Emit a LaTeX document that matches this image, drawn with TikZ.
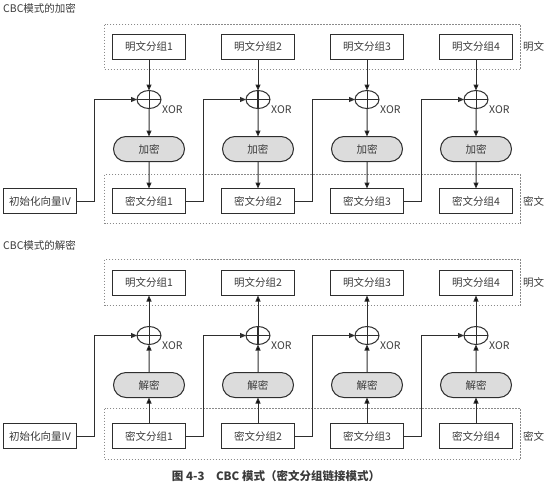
\documentclass[tikz,border=0pt]{standalone}
\usepackage{fontspec}
\setmainfont{Noto Sans CJK SC}
\usetikzlibrary{matrix,arrows.meta,shapes.geometric,shapes.misc}
\definecolor{lncol}{HTML}{2E2E2E}
\definecolor{txtcol}{HTML}{3A3A3A}
\definecolor{opgray}{HTML}{DCDCDC}
\definecolor{grpgray}{HTML}{8A8A8A}
\tikzset{
  blk/.style={draw=lncol, line width=1pt, minimum width=73pt, minimum height=25pt, inner sep=1pt},
  xor/.style={draw=lncol, ellipse, line width=1pt, minimum width=24pt, minimum height=18pt, inner sep=0pt,
    path picture={\draw[lncol, line width=1pt]
      (path picture bounding box.north) -- (path picture bounding box.south)
      (path picture bounding box.west) -- (path picture bounding box.east);}},
  op/.style={draw=lncol, rounded rectangle, fill=opgray, line width=1pt, minimum width=73pt, minimum height=25pt, inner sep=1pt},
  grp/.style={draw=grpgray, dash pattern=on 1.5pt off 1.5pt, line width=0.6pt},
  lbl/.style={text=txtcol, font=\fontsize{10.5}{12}\selectfont, inner sep=1pt},
  link/.style={draw=lncol, line width=1pt, -{Triangle[length=6pt,width=5pt]}},
}

\begin{document}
\begin{tikzpicture}[x=1pt,y=1pt]
\useasboundingbox (0,0) rectangle (554,-485);

% CBC encryption
\node[lbl, anchor=west] (enc) at (2,-8) {CBC模式的加密};
\matrix (e) [matrix of nodes, row sep=27pt, column sep=35pt, inner sep=0pt, outer sep=0pt,
  anchor=north west, nodes={text=txtcol, font=\fontsize{10.5}{12}\selectfont}] at (3,-34)
{
  & |[blk]| 明文分组1 & |[blk]| 明文分组2 & |[blk]| 明文分组3 & |[blk]| 明文分组4 \\[3pt]
  & |[xor]| {} & |[xor]| {} & |[xor]| {} & |[xor]| {} \\
  & |[op]| 加密 & |[op]| 加密 & |[op]| 加密 & |[op]| 加密 \\[-1pt]
  |[blk]| 初始化向量IV & |[blk]| 密文分组1 & |[blk]| 密文分组2 & |[blk]| 密文分组3 & |[blk]| 密文分组4 \\
};
\draw[grp] ([xshift=-8pt,yshift=10pt]e-1-2.north west) rectangle ([xshift=8pt,yshift=-10pt]e-1-5.south east);
\draw[grp] ([xshift=-8pt,yshift=14pt]e-4-2.north west) rectangle ([xshift=8pt,yshift=-10pt]e-4-5.south east);
\node[lbl] (encp) at ([xshift=21pt]e-1-5.east) {明文};
\node[lbl] (encc) at ([xshift=21pt]e-4-5.east) {密文};
\node[lbl, anchor=west] at ([yshift=-10pt]e-2-2.east) {XOR};
\node[lbl, anchor=west] at ([yshift=-10pt]e-2-3.east) {XOR};
\node[lbl, anchor=west] at ([yshift=-10pt]e-2-4.east) {XOR};
\node[lbl, anchor=west] at ([yshift=-10pt]e-2-5.east) {XOR};
\path[link]
  (e-1-2) edge (e-2-2) (e-2-2) edge (e-3-2) (e-3-2) edge (e-4-2)
  (e-1-3) edge (e-2-3) (e-2-3) edge (e-3-3) (e-3-3) edge (e-4-3)
  (e-1-4) edge (e-2-4) (e-2-4) edge (e-3-4) (e-3-4) edge (e-4-4)
  (e-1-5) edge (e-2-5) (e-2-5) edge (e-3-5) (e-3-5) edge (e-4-5);
\draw[link] (e-4-1.east) -- ++(18,0) |- (e-2-2.west);
\draw[link] (e-4-2.east) -- ++(17.5,0) |- (e-2-3.west);
\draw[link] (e-4-3.east) -- ++(17.5,0) |- (e-2-4.west);
\draw[link] (e-4-4.east) -- ++(17.5,0) |- (e-2-5.west);

% CBC decryption
\node[lbl, anchor=west] (dec) at (2,-245) {CBC模式的解密};
\matrix (d) [matrix of nodes, row sep=27pt, column sep=35pt, inner sep=0pt, outer sep=0pt,
  anchor=north west, nodes={text=txtcol, font=\fontsize{10.5}{12}\selectfont}] at (3,-270)
{
  & |[blk]| 明文分组1 & |[blk]| 明文分组2 & |[blk]| 明文分组3 & |[blk]| 明文分组4 \\[3pt]
  & |[xor]| {} & |[xor]| {} & |[xor]| {} & |[xor]| {} \\
  & |[op]| 解密 & |[op]| 解密 & |[op]| 解密 & |[op]| 解密 \\[-2pt]
  |[blk]| 初始化向量IV & |[blk]| 密文分组1 & |[blk]| 密文分组2 & |[blk]| 密文分组3 & |[blk]| 密文分组4 \\
};
\draw[grp] ([xshift=-8pt,yshift=11pt]d-1-2.north west) rectangle ([xshift=8pt,yshift=-10pt]d-1-5.south east);
\draw[grp] ([xshift=-8pt,yshift=15pt]d-4-2.north west) rectangle ([xshift=8pt,yshift=-11pt]d-4-5.south east);
\node[lbl] (decp) at ([xshift=21pt]d-1-5.east) {明文};
\node[lbl] (decc) at ([xshift=21pt]d-4-5.east) {密文};
\node[lbl, anchor=west] at ([yshift=-10pt]d-2-2.east) {XOR};
\node[lbl, anchor=west] at ([yshift=-10pt]d-2-3.east) {XOR};
\node[lbl, anchor=west] at ([yshift=-10pt]d-2-4.east) {XOR};
\node[lbl, anchor=west] at ([yshift=-10pt]d-2-5.east) {XOR};
\path[link]
  (d-4-2) edge (d-3-2) (d-3-2) edge (d-2-2) (d-2-2) edge (d-1-2)
  (d-4-3) edge (d-3-3) (d-3-3) edge (d-2-3) (d-2-3) edge (d-1-3)
  (d-4-4) edge (d-3-4) (d-3-4) edge (d-2-4) (d-2-4) edge (d-1-4)
  (d-4-5) edge (d-3-5) (d-3-5) edge (d-2-5) (d-2-5) edge (d-1-5);
\draw[link] (d-4-1.east) -- ++(18,0) |- (d-2-2.west);
\draw[link] (d-4-2.east) -- ++(17.5,0) |- (d-2-3.west);
\draw[link] (d-4-3.east) -- ++(17.5,0) |- (d-2-4.west);
\draw[link] (d-4-4.east) -- ++(17.5,0) |- (d-2-5.west);

\node[lbl, font=\fontsize{11.5}{13}\selectfont\bfseries] (cap) at (276,-476) {图 4-3\quad CBC 模式（密文分组链接模式）};
\end{tikzpicture}
\end{document}
